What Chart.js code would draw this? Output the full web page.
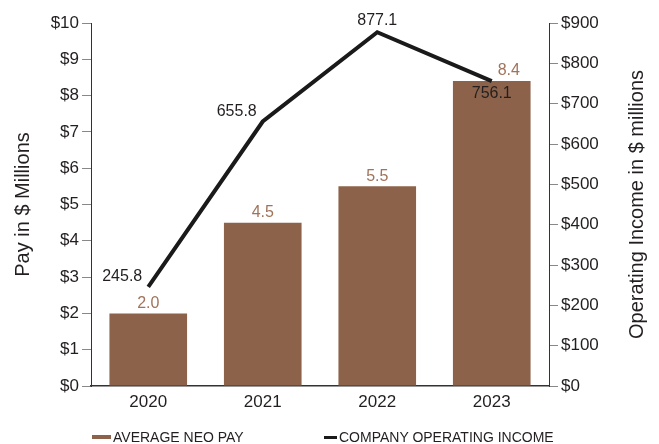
<!DOCTYPE html>
<html>
<head>
<meta charset="utf-8">
<script src="https://cdn.jsdelivr.net/npm/chart.js@4/dist/chart.umd.min.js"></script>
<style>
    body { margin: 0; background: #fff; }
    #wrap { position: relative; width: 659px; height: 444px; }
    #legend { position: absolute; left: 0; top: 429px; width: 659px; height: 16px;
              font: 14px "Liberation Sans", Arial, sans-serif; color: #231f20; }
    #legend .item { position: absolute; top: 0; display: flex; align-items: center; height: 16px; white-space: nowrap; }
    #legend .swatch { display: inline-block; margin-right: 2px; }
</style>
</head>
<body>
<div id="wrap">
    <canvas id="payChart" width="659" height="444"></canvas>
    <div id="legend"></div>
</div>
<script>
const years = ['2020', '2021', '2022', '2023'];
const avgNeoPay = [2.0, 4.5, 5.5, 8.4];
const operatingIncome = [245.8, 655.8, 877.1, 756.1];

// where each income label sits around its point, and the sideways nudge on pay labels
const incomeLabelSide = ['left', 'left', 'top', 'bottom'];
const payLabelNudge = [0, 0, 0, 17];

const BROWN = '#8c634a';
const BROWN_TEXT = '#a0735a';
const INK = '#231f20';
const FONT = '"Liberation Sans", Arial, sans-serif';

const valueLabels = {
    id: 'valueLabels',
    afterDatasetsDraw(chart) {
        const ctx = chart.ctx;
        ctx.save();
        ctx.font = '16px ' + FONT;
        ctx.textBaseline = 'middle';

        chart.getDatasetMeta(0).data.forEach((bar, i) => {
            ctx.fillStyle = BROWN_TEXT;
            ctx.textAlign = 'center';
            ctx.fillText(avgNeoPay[i].toFixed(1), bar.x + payLabelNudge[i], bar.y - 10);
        });

        chart.getDatasetMeta(1).data.forEach((pt, i) => {
            ctx.fillStyle = INK;
            const side = incomeLabelSide[i];
            if (side === 'left') {
                ctx.textAlign = 'right';
                ctx.fillText(operatingIncome[i].toFixed(1), pt.x - 6, pt.y - 10);
            } else if (side === 'top') {
                ctx.textAlign = 'center';
                ctx.fillText(operatingIncome[i].toFixed(1), pt.x, pt.y - 12);
            } else {
                ctx.textAlign = 'center';
                ctx.fillText(operatingIncome[i].toFixed(1), pt.x, pt.y + 13);
            }
        });
        ctx.restore();
    }
};

// Chart.js turns a right-hand title clockwise; this one reads bottom-to-top like the left one
const rightTitle = {
    id: 'rightTitle',
    afterDraw(chart) {
        const ctx = chart.ctx;
        const s = chart.scales.y1;
        ctx.save();
        ctx.translate(s.right - 22, (s.top + s.bottom) / 2);
        ctx.rotate(-Math.PI / 2);
        ctx.font = '20px ' + FONT;
        ctx.fillStyle = INK;
        ctx.textAlign = 'center';
        ctx.textBaseline = 'middle';
        ctx.fillText('Operating Income in $ millions', 0, 0);
        ctx.restore();
    }
};

const chart = new Chart(document.getElementById('payChart'), {
    type: 'bar',
    data: {
        labels: years,
        datasets: [{
            label: 'AVERAGE NEO PAY',
            data: avgNeoPay,
            backgroundColor: BROWN,
            barPercentage: 0.678,
            categoryPercentage: 1,
            yAxisID: 'y',
            order: 1
        }, {
            type: 'line',
            label: 'COMPANY OPERATING INCOME',
            data: operatingIncome,
            borderColor: '#1a1a1a',
            borderWidth: 4,
            borderJoinStyle: 'miter',
            pointRadius: 0,
            tension: 0,
            yAxisID: 'y1',
            order: 0
        }]
    },
    options: {
        responsive: false,
        animation: false,
        layout: { padding: { top: 23, left: 0, right: 0, bottom: 0 } },
        plugins: {
            legend: { display: false },
            tooltip: { enabled: false }
        },
        scales: {
            x: {
                grid: { display: false, drawTicks: false },
                border: { color: '#333', width: 1.5 },
                ticks: { color: INK, font: { family: FONT, size: 17 }, padding: 6 },
                afterFit: (scale) => { scale.height = 58; }
            },
            y: {
                position: 'left',
                min: 0,
                max: 10,
                ticks: {
                    stepSize: 1,
                    color: INK,
                    padding: 3,
                    font: { family: FONT, size: 17 },
                    callback: (v) => '$' + v
                },
                grid: { drawOnChartArea: false, tickLength: 9, color: '#888' },
                border: { color: '#333' },
                title: {
                    display: true,
                    text: 'Pay in $ Millions',
                    color: INK,
                    font: { family: FONT, size: 20 },
                    padding: { top: 11, bottom: 0 }
                },
                afterFit: (scale) => { scale.width = 91; }
            },
            y1: {
                position: 'right',
                min: 0,
                max: 900,
                ticks: {
                    stepSize: 100,
                    color: INK,
                    padding: 3,
                    font: { family: FONT, size: 17 },
                    callback: (v) => '$' + v
                },
                grid: { drawOnChartArea: false, tickLength: 9, color: '#888' },
                border: { color: '#333' },
                afterFit: (scale) => { scale.width = 110; }
            }
        }
    },
    plugins: [valueLabels, rightTitle]
});

// legend under the axis: bar swatch is wider and thicker than the line swatch
const legendSpots = [
    { left: 92, w: 19, h: 4 },
    { left: 324, w: 13, h: 3 }
];
const legendEl = document.getElementById('legend');
chart.data.datasets.forEach((ds, i) => {
    const spot = legendSpots[i];
    const item = document.createElement('div');
    item.className = 'item';
    item.style.left = spot.left + 'px';
    const sw = document.createElement('span');
    sw.className = 'swatch';
    sw.style.width = spot.w + 'px';
    sw.style.height = spot.h + 'px';
    sw.style.background = ds.type === 'line' ? ds.borderColor : ds.backgroundColor;
    item.appendChild(sw);
    item.appendChild(document.createTextNode(ds.label));
    legendEl.appendChild(item);
});
</script>
</body>
</html>
